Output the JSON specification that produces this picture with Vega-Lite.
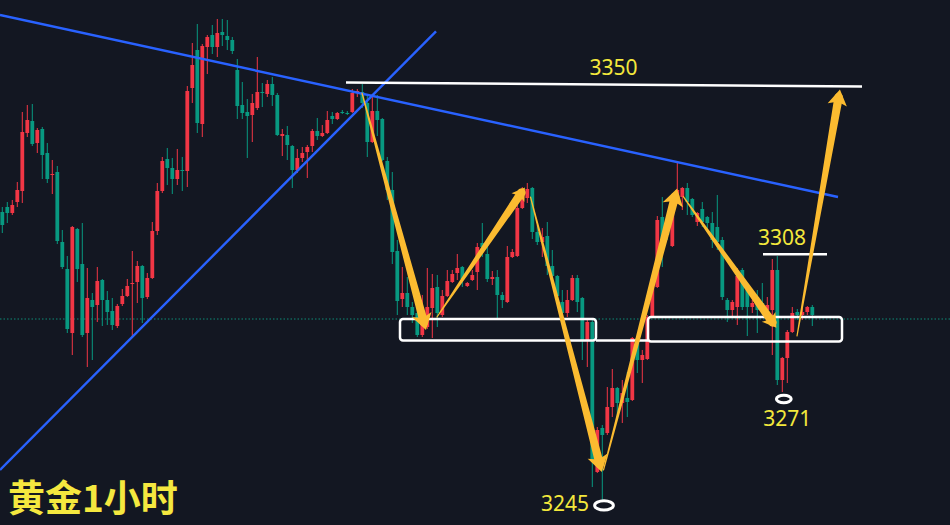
{
  "$schema": "https://vega.github.io/schema/vega-lite/v6.json",
  "width": 950,
  "height": 525,
  "padding": 0,
  "autosize": {"type": "none"},
  "background": "#131722",
  "config": {"view": {"stroke": null}, "scale": {"continuousPadding": 0}},
  "datasets": {
    "candles": [
      {"t":1,"o":3318.75,"h":3320,"l":3313.5,"c":3315.5},
      {"t":2,"o":3320,"h":3321.25,"l":3316,"c":3318.5},
      {"t":3,"o":3318.5,"h":3321.75,"l":3318,"c":3320.5},
      {"t":4,"o":3321.25,"h":3326.25,"l":3320,"c":3324.25},
      {"t":5,"o":3324,"h":3343.75,"l":3321,"c":3338.75},
      {"t":6,"o":3338.5,"h":3345.5,"l":3337.5,"c":3341.75},
      {"t":7,"o":3341.5,"h":3345.75,"l":3335.25,"c":3335.75},
      {"t":8,"o":3336,"h":3339.75,"l":3333.5,"c":3339.25},
      {"t":9,"o":3339.5,"h":3340,"l":3327,"c":3333},
      {"t":10,"o":3333.5,"h":3336,"l":3326,"c":3327},
      {"t":11,"o":3328,"h":3331.75,"l":3323.25,"c":3328.25},
      {"t":12,"o":3328.75,"h":3330.25,"l":3310.75,"c":3311.5},
      {"t":13,"o":3311.25,"h":3314.25,"l":3304.5,"c":3305},
      {"t":14,"o":3304.5,"h":3307.75,"l":3288.5,"c":3289.5},
      {"t":15,"o":3288.5,"h":3315.25,"l":3283,"c":3315},
      {"t":16,"o":3314.5,"h":3314.75,"l":3301.25,"c":3304.5},
      {"t":17,"o":3305.75,"h":3316,"l":3287.5,"c":3288},
      {"t":18,"o":3288.5,"h":3304.75,"l":3280,"c":3297.25},
      {"t":19,"o":3296.75,"h":3298.5,"l":3281.75,"c":3295},
      {"t":20,"o":3295.5,"h":3305,"l":3291.25,"c":3301.5},
      {"t":21,"o":3301.75,"h":3302,"l":3290.25,"c":3296.75},
      {"t":22,"o":3296.75,"h":3299,"l":3290.5,"c":3293.75},
      {"t":23,"o":3294,"h":3297.25,"l":3289.25,"c":3290.5},
      {"t":24,"o":3290.25,"h":3295.75,"l":3289.75,"c":3295.25},
      {"t":25,"o":3295.75,"h":3299.5,"l":3295.25,"c":3297.75},
      {"t":26,"o":3297.75,"h":3302,"l":3297.5,"c":3300.25},
      {"t":27,"o":3300.75,"h":3309,"l":3287.5,"c":3301},
      {"t":28,"o":3301.25,"h":3306.5,"l":3296,"c":3305.25},
      {"t":29,"o":3305.25,"h":3305.5,"l":3291,"c":3297.25},
      {"t":30,"o":3297.5,"h":3303.5,"l":3297,"c":3302.25},
      {"t":31,"o":3302.25,"h":3316.25,"l":3302,"c":3314},
      {"t":32,"o":3314,"h":3326,"l":3313,"c":3324},
      {"t":33,"o":3324,"h":3332.5,"l":3323.5,"c":3331.5},
      {"t":34,"o":3332,"h":3334.75,"l":3325.5,"c":3329.75},
      {"t":35,"o":3329.75,"h":3332.25,"l":3323.25,"c":3327},
      {"t":36,"o":3327,"h":3334.5,"l":3325.5,"c":3329.25},
      {"t":37,"o":3329.25,"h":3332.5,"l":3324,"c":3329},
      {"t":38,"o":3329,"h":3350.25,"l":3325,"c":3349},
      {"t":39,"o":3349.75,"h":3361,"l":3346,"c":3355.5},
      {"t":40,"o":3359.25,"h":3365.75,"l":3338.5,"c":3341},
      {"t":41,"o":3340.75,"h":3360.75,"l":3337.5,"c":3360.25},
      {"t":42,"o":3360,"h":3363,"l":3353.25,"c":3362.5},
      {"t":43,"o":3363,"h":3365.5,"l":3358.25,"c":3360},
      {"t":44,"o":3360,"h":3367,"l":3357.5,"c":3363.5},
      {"t":45,"o":3363.75,"h":3367,"l":3360.25,"c":3363},
      {"t":46,"o":3362.75,"h":3366.75,"l":3359.25,"c":3361.75},
      {"t":47,"o":3361.75,"h":3362.5,"l":3358.25,"c":3359},
      {"t":48,"o":3354.25,"h":3357,"l":3342,"c":3345.25},
      {"t":49,"o":3345.5,"h":3351.25,"l":3342,"c":3343.5},
      {"t":50,"o":3343.75,"h":3347,"l":3332.25,"c":3342.75},
      {"t":51,"o":3343,"h":3348.25,"l":3336.25,"c":3346},
      {"t":52,"o":3344.75,"h":3357.5,"l":3344.25,"c":3348.75},
      {"t":53,"o":3348.75,"h":3351,"l":3345,"c":3348.5},
      {"t":54,"o":3348.25,"h":3351.75,"l":3347.5,"c":3350.75},
      {"t":55,"o":3350.75,"h":3352.5,"l":3345.25,"c":3348},
      {"t":56,"o":3348,"h":3348.5,"l":3337.75,"c":3338},
      {"t":57,"o":3337.75,"h":3339.5,"l":3332.75,"c":3338.25},
      {"t":58,"o":3338,"h":3340.25,"l":3331.75,"c":3335.5},
      {"t":59,"o":3335.25,"h":3335.5,"l":3324.75,"c":3329.25},
      {"t":60,"o":3329.25,"h":3334.5,"l":3328.5,"c":3332.25},
      {"t":61,"o":3332.25,"h":3335,"l":3331.25,"c":3333.5},
      {"t":62,"o":3333.75,"h":3335.5,"l":3327.25,"c":3335},
      {"t":63,"o":3335.25,"h":3339.5,"l":3333.75,"c":3339},
      {"t":64,"o":3339,"h":3342.25,"l":3336.75,"c":3337.75},
      {"t":65,"o":3337.75,"h":3340.5,"l":3337.5,"c":3338.5},
      {"t":66,"o":3338.5,"h":3344,"l":3338.25,"c":3341.75},
      {"t":67,"o":3342.75,"h":3343.75,"l":3340.75,"c":3342},
      {"t":68,"o":3342,"h":3343.75,"l":3341.75,"c":3343.5},
      {"t":69,"o":3343.75,"h":3344.25,"l":3343.25,"c":3343.5},
      {"t":70,"o":3343.5,"h":3344,"l":3343,"c":3343.25},
      {"t":71,"o":3343.75,"h":3349.5,"l":3343.5,"c":3348.5},
      {"t":72,"o":3348.5,"h":3349.5,"l":3347.5,"c":3349},
      {"t":73,"o":3348.75,"h":3350.75,"l":3344.75,"c":3346},
      {"t":74,"o":3346,"h":3348.25,"l":3332.5,"c":3336.25},
      {"t":75,"o":3336.25,"h":3348.25,"l":3336,"c":3344},
      {"t":76,"o":3344,"h":3348,"l":3337.75,"c":3341.75},
      {"t":77,"o":3342,"h":3342.25,"l":3331.5,"c":3331.75},
      {"t":78,"o":3331.5,"h":3332.5,"l":3321.75,"c":3324.25},
      {"t":79,"o":3324.25,"h":3328.75,"l":3305.75,"c":3308.75},
      {"t":80,"o":3309,"h":3311.75,"l":3293,"c":3296.5},
      {"t":81,"o":3297,"h":3305,"l":3295,"c":3298.5},
      {"t":82,"o":3298.5,"h":3302.5,"l":3293,"c":3295},
      {"t":83,"o":3295,"h":3296.25,"l":3291,"c":3293},
      {"t":84,"o":3293.5,"h":3296.75,"l":3287.5,"c":3288},
      {"t":85,"o":3288,"h":3298,"l":3287.5,"c":3290.5},
      {"t":86,"o":3290,"h":3304.75,"l":3289.5,"c":3295},
      {"t":87,"o":3294.75,"h":3303.25,"l":3287.25,"c":3299.75},
      {"t":88,"o":3300,"h":3303,"l":3290,"c":3293.5},
      {"t":89,"o":3293,"h":3299.25,"l":3292.5,"c":3297.75},
      {"t":90,"o":3297.75,"h":3304.25,"l":3297.5,"c":3301.5},
      {"t":91,"o":3301.25,"h":3304.25,"l":3301,"c":3303.25},
      {"t":92,"o":3303.5,"h":3308.25,"l":3301.75,"c":3304.75},
      {"t":93,"o":3305,"h":3305.25,"l":3300,"c":3302},
      {"t":94,"o":3300.25,"h":3301.25,"l":3300,"c":3301},
      {"t":95,"o":3301.75,"h":3304.25,"l":3301.5,"c":3303},
      {"t":96,"o":3303.75,"h":3311,"l":3299.25,"c":3310},
      {"t":97,"o":3311,"h":3316,"l":3307.5,"c":3310},
      {"t":98,"o":3308.25,"h":3311,"l":3301.25,"c":3302},
      {"t":99,"o":3302,"h":3304,"l":3300.5,"c":3302.5},
      {"t":100,"o":3302.5,"h":3304.25,"l":3292.25,"c":3298},
      {"t":101,"o":3298,"h":3298.75,"l":3294.75,"c":3296.75},
      {"t":102,"o":3296.25,"h":3310.25,"l":3296,"c":3307.5},
      {"t":103,"o":3307.5,"h":3309.5,"l":3307.25,"c":3308.75},
      {"t":104,"o":3307.75,"h":3321,"l":3307.5,"c":3319.75},
      {"t":105,"o":3319.75,"h":3325,"l":3319.5,"c":3322.75},
      {"t":106,"o":3322.25,"h":3326,"l":3321,"c":3324.5},
      {"t":107,"o":3324.75,"h":3325,"l":3312,"c":3313.75},
      {"t":108,"o":3313.75,"h":3315.5,"l":3310.5,"c":3311.25},
      {"t":109,"o":3311.25,"h":3314.75,"l":3307.5,"c":3312.5},
      {"t":110,"o":3312.75,"h":3316.25,"l":3303,"c":3305.25},
      {"t":111,"o":3305.25,"h":3309.25,"l":3302.5,"c":3302.75},
      {"t":112,"o":3302.75,"h":3303,"l":3297.5,"c":3297.75},
      {"t":113,"o":3296.25,"h":3299.25,"l":3292.5,"c":3293.5},
      {"t":114,"o":3293.5,"h":3299.25,"l":3292.5,"c":3296.75},
      {"t":115,"o":3296.75,"h":3303,"l":3296.5,"c":3302.25},
      {"t":116,"o":3302.25,"h":3303,"l":3293.75,"c":3296.25},
      {"t":117,"o":3297.25,"h":3297.5,"l":3281.75,"c":3286.75},
      {"t":118,"o":3286.75,"h":3292.25,"l":3280,"c":3291.25},
      {"t":119,"o":3291.25,"h":3292.25,"l":3250,"c":3256.75},
      {"t":120,"o":3253.75,"h":3265,"l":3253.5,"c":3264.25},
      {"t":121,"o":3264.75,"h":3265.5,"l":3246.75,"c":3263},
      {"t":122,"o":3263.5,"h":3275,"l":3263,"c":3270},
      {"t":123,"o":3270,"h":3279.5,"l":3267.5,"c":3274.75},
      {"t":124,"o":3274.75,"h":3275,"l":3267.5,"c":3271},
      {"t":125,"o":3271,"h":3276.75,"l":3266,"c":3273.5},
      {"t":126,"o":3272.25,"h":3278.75,"l":3267.5,"c":3271.25},
      {"t":127,"o":3271.75,"h":3287.5,"l":3271.5,"c":3287.25},
      {"t":128,"o":3287.25,"h":3287.5,"l":3278.5,"c":3281.75},
      {"t":129,"o":3281.75,"h":3284.25,"l":3276,"c":3283},
      {"t":130,"o":3282,"h":3293,"l":3281.75,"c":3292.5},
      {"t":131,"o":3292.5,"h":3302.5,"l":3292.25,"c":3301},
      {"t":132,"o":3300,"h":3317.75,"l":3299.75,"c":3316.75},
      {"t":133,"o":3317.5,"h":3322.5,"l":3305,"c":3310.5},
      {"t":134,"o":3316.75,"h":3318,"l":3311.75,"c":3313},
      {"t":135,"o":3310.25,"h":3321,"l":3310,"c":3320},
      {"t":136,"o":3321,"h":3331,"l":3320.75,"c":3324.25},
      {"t":137,"o":3322.5,"h":3325,"l":3319.25,"c":3324.75},
      {"t":138,"o":3324.75,"h":3326,"l":3318,"c":3321.25},
      {"t":139,"o":3322,"h":3322.25,"l":3317.5,"c":3318},
      {"t":140,"o":3316.25,"h":3318.75,"l":3315.25,"c":3318.5},
      {"t":141,"o":3319.5,"h":3321.25,"l":3315,"c":3316.25},
      {"t":142,"o":3317.5,"h":3317.75,"l":3314.5,"c":3316},
      {"t":143,"o":3316,"h":3318.75,"l":3309.75,"c":3311.75},
      {"t":144,"o":3315,"h":3323,"l":3309.25,"c":3311.25},
      {"t":145,"o":3311.75,"h":3312.5,"l":3296.75,"c":3297.5},
      {"t":146,"o":3296.75,"h":3297.25,"l":3291.25,"c":3294.25},
      {"t":147,"o":3294.25,"h":3296.75,"l":3292.5,"c":3296.25},
      {"t":148,"o":3295,"h":3304.75,"l":3290.5,"c":3302.75},
      {"t":149,"o":3304.25,"h":3304.75,"l":3294.25,"c":3295},
      {"t":150,"o":3299.25,"h":3300,"l":3287.75,"c":3295},
      {"t":151,"o":3295,"h":3296.75,"l":3293.5,"c":3296},
      {"t":152,"o":3297.5,"h":3299.25,"l":3288.5,"c":3294.25},
      {"t":153,"o":3296,"h":3301,"l":3293,"c":3294},
      {"t":154,"o":3294.25,"h":3297.5,"l":3293.5,"c":3295.5},
      {"t":155,"o":3294.25,"h":3307,"l":3283,"c":3304.25},
      {"t":156,"o":3304.25,"h":3307.75,"l":3275.5,"c":3276.75},
      {"t":157,"o":3276.75,"h":3282.5,"l":3273.75,"c":3282.25},
      {"t":158,"o":3282.25,"h":3289.25,"l":3276,"c":3288.75},
      {"t":159,"o":3288.75,"h":3295,"l":3288.5,"c":3293.5},
      {"t":160,"o":3293.75,"h":3294.5,"l":3291.75,"c":3293},
      {"t":161,"o":3293,"h":3294.75,"l":3291.75,"c":3293.75},
      {"t":162,"o":3293.75,"h":3295.25,"l":3293,"c":3295},
      {"t":163,"o":3295,"h":3295.5,"l":3290.25,"c":3293}
    ],
    "trend": [
      {"line":"down","t":0.54,"p":3368.0},
      {"line":"down","t":168.14,"p":3322.5},
      {"line":"up","t":0.54,"p":3254.25},
      {"line":"up","t":87.74,"p":3363.9}
    ],
    "levels": [
      {"seg":"3350","t":69.74,"p":3351.1},
      {"seg":"3350","t":172.94,"p":3350.1},
      {"seg":"3308","t":153.14,"p":3308.2},
      {"seg":"3308","t":165.94,"p":3308.2},
      {"seg":"link","t":119.74,"p":3286.6},
      {"seg":"link","t":130.14,"p":3286.6}
    ],
    "boxes": [
      {"t":80.54,"t2":119.74,"p":3292.0,"p2":3286.6},
      {"t":130.14,"t2":168.94,"p":3292.5,"p2":3286.4}
    ],
    "arrows": [
      {"arrow":"a","end":0,"t":72.94,"p":3348.5},
      {"arrow":"a","end":1,"t":85.32,"p":3291.18},
      {"arrow":"b","end":0,"t":87.94,"p":3292.5},
      {"arrow":"b","end":1,"t":104.82,"p":3323.6},
      {"arrow":"c","end":0,"t":106.64,"p":3322.5},
      {"arrow":"c","end":1,"t":120.48,"p":3255.75},
      {"arrow":"d","end":0,"t":121.24,"p":3254.25},
      {"arrow":"d","end":1,"t":135.54,"p":3322.58},
      {"arrow":"e","end":0,"t":137.2,"p":3322.58},
      {"arrow":"e","end":1,"t":155.04,"p":3291.15},
      {"arrow":"f","end":0,"t":159.94,"p":3287.75},
      {"arrow":"f","end":1,"t":168.26,"p":3347.45}
    ],
    "labels": [
      {"label":"3350","t":123.24,"p":3354.6},
      {"label":"3308","t":156.94,"p":3312.1},
      {"label":"3271","t":158.0,"p":3266.75},
      {"label":"3245","t":113.54,"p":3245.6}
    ]
  },
  "layer": [
    {
      "data": {"values": [{"p": 3292.0}]},
      "mark": {"type": "rule", "stroke": "#0e8a76", "strokeWidth": 1, "strokeDash": [1.5, 2]},
      "encoding": {
        "y": {"field": "p", "type": "quantitative", "scale": {"domain": [3240.5, 3371.75], "nice": false, "zero": false, "padding": 0}, "axis": null}
      }
    },
    {
      "data": {"name": "candles"},
      "mark": {"type": "rule", "strokeWidth": 1},
      "encoding": {
        "x": {"field": "t", "type": "quantitative", "scale": {"domain": [0.54, 190.54], "nice": false, "zero": false, "padding": 0}, "axis": null},
        "y": {"field": "h", "type": "quantitative", "scale": {"domain": [3240.5, 3371.75], "nice": false, "zero": false, "padding": 0}, "axis": null},
        "y2": {"field": "l"},
        "color": {"condition": {"test": "datum.c > datum.o", "value": "#f23645"}, "value": "#089981"}
      }
    },
    {
      "data": {"name": "candles"},
      "mark": {"type": "bar", "width": 3.8},
      "encoding": {
        "x": {"field": "t", "type": "quantitative", "scale": {"domain": [0.54, 190.54], "nice": false, "zero": false, "padding": 0}, "axis": null},
        "y": {"field": "o", "type": "quantitative", "scale": {"domain": [3240.5, 3371.75], "nice": false, "zero": false, "padding": 0}, "axis": null},
        "y2": {"field": "c"},
        "color": {"condition": {"test": "datum.c > datum.o", "value": "#f23645"}, "value": "#089981"}
      }
    },
    {
      "data": {"name": "trend"},
      "mark": {"type": "line", "stroke": "#2962ff", "strokeWidth": 2.4},
      "encoding": {
        "x": {"field": "t", "type": "quantitative", "scale": {"domain": [0.54, 190.54], "nice": false, "zero": false, "padding": 0}, "axis": null},
        "y": {"field": "p", "type": "quantitative", "scale": {"domain": [3240.5, 3371.75], "nice": false, "zero": false, "padding": 0}, "axis": null},
        "detail": {"field": "line"}
      }
    },
    {
      "data": {"name": "levels"},
      "mark": {"type": "line", "stroke": "#ffffff", "strokeWidth": 2.5},
      "encoding": {
        "x": {"field": "t", "type": "quantitative", "scale": {"domain": [0.54, 190.54], "nice": false, "zero": false, "padding": 0}, "axis": null},
        "y": {"field": "p", "type": "quantitative", "scale": {"domain": [3240.5, 3371.75], "nice": false, "zero": false, "padding": 0}, "axis": null},
        "detail": {"field": "seg"}
      }
    },
    {
      "data": {"name": "boxes"},
      "mark": {"type": "rect", "filled": false, "stroke": "#ffffff", "strokeWidth": 2.5, "cornerRadius": 3},
      "encoding": {
        "x": {"field": "t", "type": "quantitative", "scale": {"domain": [0.54, 190.54], "nice": false, "zero": false, "padding": 0}, "axis": null},
        "x2": {"field": "t2"},
        "y": {"field": "p", "type": "quantitative", "scale": {"domain": [3240.5, 3371.75], "nice": false, "zero": false, "padding": 0}, "axis": null},
        "y2": {"field": "p2"}
      }
    },
    {
      "data": {"name": "arrows"},
      "transform": [{"filter": "datum.arrow != 'b' && datum.arrow != 'e'"}],
      "mark": {"type": "trail", "color": "#fbbb30"},
      "encoding": {
        "x": {"field": "t", "type": "quantitative", "scale": {"domain": [0.54, 190.54], "nice": false, "zero": false, "padding": 0}, "axis": null},
        "y": {"field": "p", "type": "quantitative", "scale": {"domain": [3240.5, 3371.75], "nice": false, "zero": false, "padding": 0}, "axis": null},
        "detail": {"field": "arrow"},
        "size": {"field": "end", "type": "quantitative", "scale": {"domain": [0, 1], "range": [1.2, 8.5]}, "legend": null}
      }
    },
    {
      "data": {"name": "arrows"},
      "transform": [{"filter": "datum.arrow == 'b' || datum.arrow == 'e'"}],
      "mark": {"type": "trail", "color": "#fbbb30"},
      "encoding": {
        "x": {"field": "t", "type": "quantitative", "scale": {"domain": [0.54, 190.54], "nice": false, "zero": false, "padding": 0}, "axis": null},
        "y": {"field": "p", "type": "quantitative", "scale": {"domain": [3240.5, 3371.75], "nice": false, "zero": false, "padding": 0}, "axis": null},
        "detail": {"field": "arrow"},
        "size": {"field": "end", "type": "quantitative", "scale": {"domain": [0, 1], "range": [1, 5.5]}, "legend": null}
      }
    },
    {
      "data": {"name": "arrows"},
      "transform": [{"filter": "datum.end == 1 && datum.arrow == 'a'"}],
      "mark": {"type": "point", "shape": "M0,-0.8L1,0.8L0.38,0.58L-0.38,0.58L-1,0.8Z", "filled": true, "fill": "#fbbb30", "strokeWidth": 0, "opacity": 1, "size": 400, "angle": 164.9},
      "encoding": {
        "x": {"field": "t", "type": "quantitative", "scale": {"domain": [0.54, 190.54], "nice": false, "zero": false, "padding": 0}, "axis": null},
        "y": {"field": "p", "type": "quantitative", "scale": {"domain": [3240.5, 3371.75], "nice": false, "zero": false, "padding": 0}, "axis": null}
      }
    },
    {
      "data": {"name": "arrows"},
      "transform": [{"filter": "datum.end == 1 && datum.arrow == 'b'"}],
      "mark": {"type": "point", "shape": "M0,-0.8L1,0.8L0.38,0.58L-0.38,0.58L-1,0.8Z", "filled": true, "fill": "#fbbb30", "strokeWidth": 0, "opacity": 1, "size": 240, "angle": 34.2},
      "encoding": {
        "x": {"field": "t", "type": "quantitative", "scale": {"domain": [0.54, 190.54], "nice": false, "zero": false, "padding": 0}, "axis": null},
        "y": {"field": "p", "type": "quantitative", "scale": {"domain": [3240.5, 3371.75], "nice": false, "zero": false, "padding": 0}, "axis": null}
      }
    },
    {
      "data": {"name": "arrows"},
      "transform": [{"filter": "datum.end == 1 && datum.arrow == 'c'"}],
      "mark": {"type": "point", "shape": "M0,-0.8L1,0.8L0.38,0.58L-0.38,0.58L-1,0.8Z", "filled": true, "fill": "#fbbb30", "strokeWidth": 0, "opacity": 1, "size": 420, "angle": 165.3},
      "encoding": {
        "x": {"field": "t", "type": "quantitative", "scale": {"domain": [0.54, 190.54], "nice": false, "zero": false, "padding": 0}, "axis": null},
        "y": {"field": "p", "type": "quantitative", "scale": {"domain": [3240.5, 3371.75], "nice": false, "zero": false, "padding": 0}, "axis": null}
      }
    },
    {
      "data": {"name": "arrows"},
      "transform": [{"filter": "datum.end == 1 && datum.arrow == 'd'"}],
      "mark": {"type": "point", "shape": "M0,-0.8L1,0.8L0.38,0.58L-0.38,0.58L-1,0.8Z", "filled": true, "fill": "#fbbb30", "strokeWidth": 0, "opacity": 1, "size": 440, "angle": 14.7},
      "encoding": {
        "x": {"field": "t", "type": "quantitative", "scale": {"domain": [0.54, 190.54], "nice": false, "zero": false, "padding": 0}, "axis": null},
        "y": {"field": "p", "type": "quantitative", "scale": {"domain": [3240.5, 3371.75], "nice": false, "zero": false, "padding": 0}, "axis": null}
      }
    },
    {
      "data": {"name": "arrows"},
      "transform": [{"filter": "datum.end == 1 && datum.arrow == 'e'"}],
      "mark": {"type": "point", "shape": "M0,-0.8L1,0.8L0.38,0.58L-0.38,0.58L-1,0.8Z", "filled": true, "fill": "#fbbb30", "strokeWidth": 0, "opacity": 1, "size": 280, "angle": 144.6},
      "encoding": {
        "x": {"field": "t", "type": "quantitative", "scale": {"domain": [0.54, 190.54], "nice": false, "zero": false, "padding": 0}, "axis": null},
        "y": {"field": "p", "type": "quantitative", "scale": {"domain": [3240.5, 3371.75], "nice": false, "zero": false, "padding": 0}, "axis": null}
      }
    },
    {
      "data": {"name": "arrows"},
      "transform": [{"filter": "datum.end == 1 && datum.arrow == 'f'"}],
      "mark": {"type": "point", "shape": "M0,-0.8L1,0.8L0.38,0.58L-0.38,0.58L-1,0.8Z", "filled": true, "fill": "#fbbb30", "strokeWidth": 0, "opacity": 1, "size": 380, "angle": 9.9},
      "encoding": {
        "x": {"field": "t", "type": "quantitative", "scale": {"domain": [0.54, 190.54], "nice": false, "zero": false, "padding": 0}, "axis": null},
        "y": {"field": "p", "type": "quantitative", "scale": {"domain": [3240.5, 3371.75], "nice": false, "zero": false, "padding": 0}, "axis": null}
      }
    },
    {
      "data": {"values": [{"label": "3245", "t": 121.34, "p": 3245.4}]},
      "mark": {"type": "point", "shape": "M-1,0C-1,-0.276,-0.552,-0.5,0,-0.5C0.552,-0.5,1,-0.276,1,0C1,0.276,0.552,0.5,0,0.5C-0.552,0.5,-1,0.276,-1,0Z", "filled": false, "stroke": "#ffffff", "strokeWidth": 3, "opacity": 1, "size": 350},
      "encoding": {
        "x": {"field": "t", "type": "quantitative", "scale": {"domain": [0.54, 190.54], "nice": false, "zero": false, "padding": 0}, "axis": null},
        "y": {"field": "p", "type": "quantitative", "scale": {"domain": [3240.5, 3371.75], "nice": false, "zero": false, "padding": 0}, "axis": null}
      }
    },
    {
      "data": {"values": [{"label": "3271", "t": 157.3, "p": 3272.0}]},
      "mark": {"type": "point", "shape": "M-1,0C-1,-0.276,-0.552,-0.5,0,-0.5C0.552,-0.5,1,-0.276,1,0C1,0.276,0.552,0.5,0,0.5C-0.552,0.5,-1,0.276,-1,0Z", "filled": false, "stroke": "#ffffff", "strokeWidth": 3, "opacity": 1, "size": 220},
      "encoding": {
        "x": {"field": "t", "type": "quantitative", "scale": {"domain": [0.54, 190.54], "nice": false, "zero": false, "padding": 0}, "axis": null},
        "y": {"field": "p", "type": "quantitative", "scale": {"domain": [3240.5, 3371.75], "nice": false, "zero": false, "padding": 0}, "axis": null}
      }
    },
    {
      "data": {"name": "labels"},
      "mark": {"type": "text", "font": "Noto Sans", "fontSize": 21, "fill": "#f3e83c", "align": "center", "baseline": "middle"},
      "encoding": {
        "x": {"field": "t", "type": "quantitative", "scale": {"domain": [0.54, 190.54], "nice": false, "zero": false, "padding": 0}, "axis": null},
        "y": {"field": "p", "type": "quantitative", "scale": {"domain": [3240.5, 3371.75], "nice": false, "zero": false, "padding": 0}, "axis": null},
        "text": {"field": "label"}
      }
    },
    {
      "data": {"values": [{"label": "黄金1小时", "t": 2.14, "p": 3246.4}]},
      "mark": {"type": "text", "font": "Noto Sans CJK SC", "fontSize": 37, "fontWeight": "bold", "fill": "#f5e83f", "align": "left", "baseline": "middle"},
      "encoding": {
        "x": {"field": "t", "type": "quantitative", "scale": {"domain": [0.54, 190.54], "nice": false, "zero": false, "padding": 0}, "axis": null},
        "y": {"field": "p", "type": "quantitative", "scale": {"domain": [3240.5, 3371.75], "nice": false, "zero": false, "padding": 0}, "axis": null},
        "text": {"field": "label"}
      }
    }
  ]
}
